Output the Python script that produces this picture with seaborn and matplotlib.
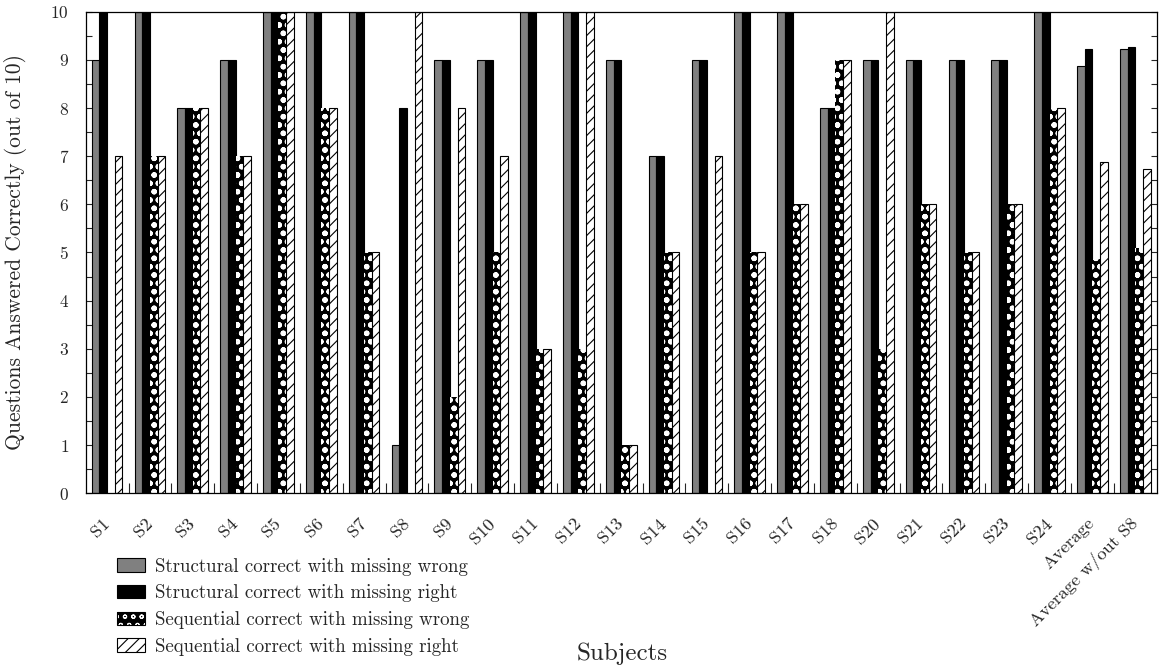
import numpy as np
import pandas as pd
import matplotlib
matplotlib.use("Agg")
import matplotlib.pyplot as plt
import seaborn as sns
from matplotlib.patches import Patch
from matplotlib.ticker import MultipleLocator, FixedLocator


subjects = ["S1", "S2", "S3", "S4", "S5", "S6", "S7", "S8", "S9", "S10",
            "S11", "S12", "S13", "S14", "S15", "S16", "S17", "S18", "S20",
            "S21", "S22", "S23", "S24", "Average", "Average w/out S8"]

struct_missing_wrong = [9, 10, 8, 9, 10, 10, 10, 1, 9, 9, 10, 10, 9, 7, 9,
                        10, 10, 8, 9, 9, 9, 9, 10, 8.87, 9.23]
struct_missing_right = [10, 10, 8, 9, 10, 10, 10, 8, 9, 9, 10, 10, 9, 7, 9,
                        10, 10, 8, 9, 9, 9, 9, 10, 9.22, 9.27]
seq_missing_wrong = [0, 7, 8, 7, 10, 8, 5, 0, 2, 5, 3, 3, 1, 5, 0,
                     5, 6, 9, 3, 6, 5, 6, 8, 4.87, 5.09]
seq_missing_right = [7, 7, 8, 7, 10, 8, 5, 10, 8, 7, 3, 10, 1, 5, 7,
                     5, 6, 9, 10, 6, 5, 6, 8, 6.87, 6.73]

series_names = ["Structural correct with missing wrong",
                "Structural correct with missing right",
                "Sequential correct with missing wrong",
                "Sequential correct with missing right"]
bar_colors = ["#808080", "black", "black", "white"]

df = pd.DataFrame({
    "Subject": subjects,
    series_names[0]: struct_missing_wrong,
    series_names[1]: struct_missing_right,
    series_names[2]: seq_missing_wrong,
    series_names[3]: seq_missing_right,
}).melt(id_vars="Subject", var_name="Condition", value_name="Correct")

sns.set_style("ticks")
plt.rcParams["font.family"] = ["cmr10", "DejaVu Serif"]
plt.rcParams["axes.formatter.use_mathtext"] = True
plt.rcParams["hatch.linewidth"] = 0.8

fig = plt.figure(figsize=(11.6, 6.71), dpi=100)
ax = fig.add_axes([0.0739, 0.2648, 0.9232, 0.7178])

sns.barplot(data=df, x="Subject", y="Correct", hue="Condition",
            hue_order=series_names, palette=bar_colors, saturation=1,
            width=0.716, gap=0, edgecolor="black", linewidth=0.8,
            errorbar=None, legend=False, ax=ax)

# checkerboard-ish fill: white pattern on black
for bar in ax.containers[2]:
    bar.set_edgecolor("white")
    bar.set_linewidth(0)
    bar.set_hatch("oo")
    if hasattr(bar, "set_hatch_linewidth"):
        bar.set_hatch_linewidth(1.6)
# diagonal hatch
for bar in ax.containers[3]:
    bar.set_hatch("///")

ax.set_xlim(-0.5, len(subjects) - 0.5)
ax.set_ylim(0, 10)

# y axis
ax.yaxis.set_major_locator(MultipleLocator(1))
ax.yaxis.set_minor_locator(MultipleLocator(0.5))
ax.tick_params(axis="y", which="both", direction="in", length=4.5, width=0.8,
               left=True, right=True, labelsize=12.5, pad=12)

# x axis: labels at group centres, small ticks between groups
ax.xaxis.set_minor_locator(FixedLocator(np.arange(0.5, len(subjects) - 1, 1.0)))
ax.tick_params(axis="x", which="major", length=0, pad=20, labelsize=13.2)
ax.tick_params(axis="x", which="minor", direction="in", length=7.5, width=0.8,
               top=False, bottom=True)
for lab in ax.get_xticklabels():
    lab.set_rotation(45)
    lab.set_ha("right")
    lab.set_va("center")
    lab.set_rotation_mode("anchor")

for sp in ax.spines.values():
    sp.set_visible(True)
    sp.set_color("black")
    sp.set_linewidth(0.9)

ax.set_xlabel("")
ax.set_ylabel("Questions Answered Correctly (out of 10)", fontsize=15.5)
ax.yaxis.set_label_coords(-0.055, 0.5)
fig.text(621.7 / 1160, 1 - 654 / 671, "Subjects", fontsize=18, ha="center", va="center")

handles = [
    Patch(facecolor="#808080", edgecolor="black", linewidth=0.8),
    Patch(facecolor="black", edgecolor="black", linewidth=0.8),
    (Patch(facecolor="black", edgecolor="white", linewidth=0, hatch="oo"),
     Patch(facecolor="none", edgecolor="black", linewidth=0.8)),
    Patch(facecolor="white", edgecolor="black", linewidth=0.8, hatch="///"),
]
fig.legend(handles, series_names, loc="upper left",
           bbox_to_anchor=(117 / 1160, 1 - 557.5 / 671), frameon=False,
           fontsize=13.6, borderpad=0, borderaxespad=0, handlelength=1.5,
           handleheight=0.7, handletextpad=0.53, labelspacing=0.46)

fig.savefig("out.png", dpi=100)
